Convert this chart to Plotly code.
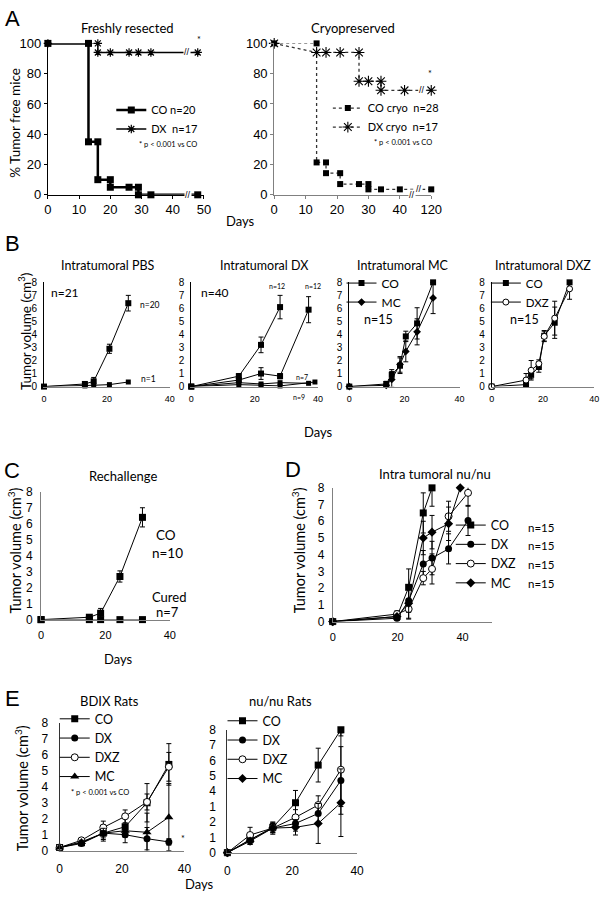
import plotly.graph_objects as go

W, H = 611, 900
TXT = "Lato, 'Open Sans', sans-serif"
NUM = "'Liberation Sans', Arial, sans-serif"
NB = "\u00a0"

# ---------------- DATA ----------------
# A - Freshly resected (% tumor free mice)
a1_co_days = [0, 13, 13, 16, 16, 20, 20, 26, 29, 29, 33, 48]
a1_co_pct = [100, 100, 35, 35, 10, 10, 5, 5, 5, 0, 0, 0]
a1_dx_days = [0, 16, 16, 20, 26, 29, 33, 48]
a1_dx_pct = [100, 100, 94, 94, 94, 94, 94, 94]
a1_xticks = [0, 10, 20, 30, 40, 50]
a_yticks = [0, 20, 40, 60, 80, 100]

# A - Cryopreserved (axis broken between 40 and 120 days)
a2_co_days = [0, 13.5, 13.5, 16.5, 16.5, 21, 21, 27, 30, 30, 34, 40, 120]
a2_co_pct = [100, 100, 21.4, 21.4, 14.3, 14.3, 7.1, 7.1, 7.1, 3.6, 3.6, 3.6, 3.6]
a2_dx_days = [0, 13.5, 16.5, 21, 27, 27, 30, 34, 34, 41.5, 120]
a2_dx_pct = [100, 94, 94, 94, 94, 75, 75, 75, 69, 69, 69]
a2_tick_days = [0, 10, 20, 30, 40, 120]

# B - Intratumoral PBS
b1_days = [0, 13, 15.8, 20.8, 26.8]
b1_pbs = [0, 0.2, 0.4, 2.9, 6.4]
b1_pbs_err = [0, 0.1, 0.3, 0.35, 0.6]
b1_n1 = [0, 0.05, 0.1, 0.15, 0.35]

# B - Intratumoral DX
b2_days_a = [0, 15, 22, 28]
b2_early = [0, 0.8, 3.2, 6.1]
b2_early_err = [0, 0.2, 0.6, 0.9]
b2_days_b = [0, 15, 22, 28, 37]
b2_late = [0, 0.5, 1.0, 0.8, 5.9]
b2_late_err = [0, 0.15, 0.45, 0.2, 1.0]
b2_days_c = [0, 15, 22, 28, 37]
b2_n7 = [0, 0.3, 0.2, 0.3, 0.25]
b2_days_d = [0, 15, 22, 28, 39]
b2_n9 = [0, 0.15, 0.1, 0.05, 0.35]

# B - Intratumoral MC / DXZ
b34_days = [0, 13.4, 15.4, 18.4, 20.5, 24.6, 30.4]
b3_co = [0, 0.2, 0.9, 1.6, 3.85, 4.85, 8.0]
b3_co_err = [0, 0.2, 0.4, 0.6, 0.4, 1.2, 0]
b3_mc = [0, 0.1, 0.55, 1.7, 2.7, 4.2, 6.8]
b3_mc_err = [0, 0.1, 0.6, 0.6, 0.8, 1.0, 1.2]
b4_co = [0, 0.15, 0.9, 1.5, 3.9, 4.9, 8.0]
b4_co_err = [0, 0.1, 0.3, 0.4, 0.4, 1.2, 0]
b4_dxz = [0, 0.5, 1.25, 1.75, 3.85, 5.25, 7.5]
b4_dxz_err = [0, 0.5, 0.75, 0.3, 0.4, 1.3, 0.8]

# C - Rechallenge
c_days = [0, 15, 18.5, 24.5, 31.5]
c_co = [0, 0.15, 0.4, 2.7, 6.4]
c_co_err = [0, 0.1, 0.3, 0.35, 0.6]
c_cured = [0, 0, 0, 0, 0]

# D - Intra tumoral nu/nu
d_days_co = [0, 19.8, 23.4, 27.9, 30.6]
d_co = [0, 0.3, 2.05, 6.5, 8.0]
d_co_err = [0, 0.2, 1.1, 1.2, 1.1]
d_days = [0, 19.8, 23.4, 27.9, 30.6, 35.7, 41.7]
d_dx = [0, 0.2, 1.25, 3.45, 3.8, 4.35, 6.05]
d_dx_err = [0, 0.1, 0.7, 0.8, 1.0, 0.9, 0.9]
d_dxz = [0, 0.45, 0.75, 2.6, 3.15, 6.3, 7.7]
d_dxz_err = [0, 0.2, 0.6, 0.4, 0.9, 0.9, 0.8]
d_days_mc = [0, 19.8, 23.4, 27.9, 30.6, 35.7, 39.3]
d_mc = [0, 0.3, 1.1, 5.0, 5.35, 5.85, 8.0]
d_mc_err = [0, 0.1, 0.9, 1.0, 1.0, 1.0, 0]

# E - BDIX rats
e_days = [0, 7, 14, 21, 28, 35]
e1_co = [0.2, 0.5, 1.1, 1.5, 3.0, 5.4]
e1_co_err = [0, 0.1, 0.5, 0.6, 1.2, 1.3]
e1_dx = [0.2, 0.45, 1.1, 1.0, 0.75, 0.55]
e1_dx_err = [0, 0.1, 0.4, 0.5, 0.7, 0.2]
e1_dxz = [0.2, 0.65, 1.45, 2.15, 3.05, 5.25]
e1_dxz_err = [0, 0.1, 0.4, 0.4, 0.5, 0.9]
e1_mc = [0.2, 0.55, 1.1, 1.25, 1.15, 2.1]
e1_mc_err = [0, 0.1, 0.3, 0.4, 1.2, 2.1]

# E - nu/nu rats
e2_co = [0, 0.85, 1.65, 3.25, 5.7, 8.0]
e2_co_err = [0, 0.3, 0.3, 0.8, 1.1, 0.4]
e2_dx = [0, 0.85, 1.6, 1.9, 2.55, 4.7]
e2_dx_err = [0, 0.3, 0.4, 0.5, 0.6, 2.2]
e2_dxz = [0, 1.15, 1.6, 2.3, 3.1, 5.4]
e2_dxz_err = [0, 0.5, 0.3, 0.5, 0.6, 2.4]
e2_mc = [0, 0.75, 1.6, 1.65, 1.9, 3.25]
e2_mc_err = [0, 0.2, 0.3, 0.5, 1.3, 2.2]
e2_ytick_text = ['0', '1', '2', '1', '4', '5', '6', '7', '8']  # as printed

vol_ticks = list(range(0, 9))
vol_xticks = [0, 20, 40]


def brk(days):
    """broken axis: days beyond the break are drawn at position 50"""
    return [50 if d > 45 else d for d in days]


# ---------------- FIGURE ----------------
fig = go.Figure()


def axname(i, letter):
    return letter + ('' if i == 1 else str(i))


def add(ax, x, y, name, err=None, symbol='square', size=6, lw=1.0,
        dash='solid', shape='linear', legend=None, mcolor='black',
        mline=0.0, lcolor='black'):
    tr = go.Scatter(
        x=x, y=y, mode='lines+markers', name=name,
        xaxis=axname(ax, 'x'), yaxis=axname(ax, 'y'),
        line=dict(color=lcolor, width=lw, dash=dash, shape=shape),
        marker=dict(symbol=symbol, size=size, color=mcolor,
                    line=dict(color='black', width=mline)),
        cliponaxis=False, hoverinfo='skip',
        showlegend=legend is not None, legend=legend or 'legend')
    if err is not None:
        tr.error_y = dict(type='data', array=err, visible=True,
                          thickness=1, width=2.5, color='black')
    fig.add_trace(tr)


# A
add(1, a1_co_days, a1_co_pct, 'CO n=20', symbol='square', size=7, lw=2.5, legend='legend')
add(1, a1_dx_days, a1_dx_pct, 'DX  n=17', symbol='asterisk-open', size=7, lw=1.4,
    mline=1.2, legend='legend')
add(2, brk(a2_co_days), a2_co_pct, 'CO cryo' + NB * 2 + 'n=28', symbol='square', size=6,
    lw=1.3, dash='3px,3px', lcolor='#333', legend='legend2')
add(2, brk(a2_dx_days), a2_dx_pct, 'DX cryo' + NB * 2 + 'n=17', symbol='asterisk-open',
    size=9, lw=1.3, dash='3px,3px', lcolor='#333', mline=1.1, legend='legend2')

# B
add(3, b1_days, b1_pbs, 'PBS n=20', err=b1_pbs_err, size=6)
add(3, b1_days, b1_n1, 'PBS n=1', size=5)
add(4, b2_days_a, b2_early, 'DX n=12 (early)', err=b2_early_err, size=6)
add(4, b2_days_b, b2_late, 'DX n=12 (late)', err=b2_late_err, size=6)
add(4, b2_days_c, b2_n7, 'DX n=7', size=5)
add(4, b2_days_d, b2_n9, 'DX n=9', size=5)
add(5, b34_days, b3_co, 'CO', err=b3_co_err, size=6, legend='legend3')
add(5, b34_days, b3_mc, 'MC', err=b3_mc_err, symbol='diamond', size=6, legend='legend3')
add(6, b34_days, b4_co, 'CO', err=b4_co_err, size=6, legend='legend4')
add(6, b34_days, b4_dxz, 'DXZ', err=b4_dxz_err, symbol='circle', mcolor='white',
    mline=1, size=6, legend='legend4')

# C
add(7, c_days, c_co, 'CO n=10', err=c_co_err, size=7)
add(7, c_days, c_cured, 'Cured n=7', size=7)

# D
add(8, d_days_co, d_co, 'CO', err=d_co_err, size=7, legend='legend5')
add(8, d_days, d_dx, 'DX', err=d_dx_err, symbol='circle', size=7, legend='legend5')
add(8, d_days, d_dxz, 'DXZ', err=d_dxz_err, symbol='circle', mcolor='white', mline=1,
    size=7, legend='legend5')
add(8, d_days_mc, d_mc, 'MC', err=d_mc_err, symbol='diamond', size=7, legend='legend5')

# E
add(9, e_days, e1_co, 'CO', err=e1_co_err, size=7, legend='legend6')
add(9, e_days, e1_dx, 'DX', err=e1_dx_err, symbol='circle', size=7, legend='legend6')
add(9, e_days, e1_dxz, 'DXZ', err=e1_dxz_err, symbol='circle', mcolor='white', mline=1,
    size=7, legend='legend6')
add(9, e_days, e1_mc, 'MC', err=e1_mc_err, symbol='triangle-up', size=8, legend='legend6')
add(10, e_days, e2_co, 'CO', err=e2_co_err, size=7, legend='legend7')
add(10, e_days, e2_dx, 'DX', err=e2_dx_err, symbol='circle', size=7, legend='legend7')
add(10, e_days, e2_dxz, 'DXZ', err=e2_dxz_err, symbol='circle', mcolor='white', mline=1,
    size=7, legend='legend7')
add(10, e_days, e2_mc, 'MC', err=e2_mc_err, symbol='diamond', size=7, legend='legend7')


# ---------------- AXES ----------------
def xdom(a, b):
    return [a / W, b / W]


def ydom(top, bot):
    return [1 - bot / H, 1 - top / H]


layout = {}
GR = '#808080'


def set_axes(i, xpx, xr, ypx, yr, xtv, xtt, ytv, ytt, xcol, ycol, xfs, yfs,
             ticks='', xstand=0, ystand=0):
    layout[('xaxis' if i == 1 else 'xaxis%d' % i)] = dict(
        domain=xdom(*xpx), range=xr, anchor=axname(i, 'y'),
        showgrid=False, zeroline=False, showline=True, linecolor=xcol, linewidth=1,
        ticks=ticks, ticklen=3, tickcolor=xcol, tickvals=xtv, ticktext=xtt,
        tickfont=dict(family=NUM, size=xfs, color='black'), ticklabelstandoff=xstand,
        fixedrange=True)
    layout[('yaxis' if i == 1 else 'yaxis%d' % i)] = dict(
        domain=ydom(*ypx), range=yr, anchor=axname(i, 'x'),
        showgrid=False, zeroline=False, showline=True, linecolor=ycol, linewidth=1,
        ticks=ticks, ticklen=3, tickcolor=ycol, tickvals=ytv, ticktext=ytt,
        tickfont=dict(family=NUM, size=yfs, color='black'), ticklabelstandoff=ystand,
        fixedrange=True)


a_ytt = [str(v) for v in a_yticks]
set_axes(1, (45, 205), [0, 50], (37, 191), [0, 100], a1_xticks, [str(v) for v in a1_xticks],
         a_yticks, a_ytt, 'black', 'black', 13, 13, ticks='outside')
set_axes(2, (277, 438), [0, 50], (37, 191), [0, 100], brk(a2_tick_days),
         [str(v) for v in a2_tick_days], a_yticks, a_ytt, GR, GR, 13, 13, ticks='outside')
vt = [str(v) for v in vol_ticks]
xt = [str(v) for v in vol_xticks]
for i, xpx in zip([3, 4, 5, 6], [(41, 170), (192, 322), (354, 467), (500, 605)]):
    set_axes(i, xpx, [0, 40], (280, 386), [0, 8], vol_xticks, xt, vol_ticks, vt,
             GR, 'black', 9, 10, xstand=4, ystand=4)
set_axes(7, (38, 170), [0, 40], (493, 623), [0, 8], vol_xticks, xt, vol_ticks, vt,
         GR, GR, 11, 12, xstand=5, ystand=5)
set_axes(8, (337, 500), [0, 49], (489, 625), [0, 8], vol_xticks, xt, vol_ticks, vt,
         GR, GR, 11, 12, xstand=5, ystand=5)
set_axes(9, (57, 185), [0, 40], (728, 858), [0, 8], vol_xticks, xt, vol_ticks, vt,
         GR, '#333', 12, 12, xstand=7, ystand=8)
set_axes(10, (229, 362), [0, 40], (735, 860), [0, 8], vol_xticks, xt, vol_ticks,
         e2_ytick_text, GR, '#333', 12, 12, xstand=7, ystand=8)


# ---------------- LEGENDS ----------------
def leg(xpx, ypx, fs):
    return dict(x=xpx / W, y=1 - ypx / H, xanchor='left', yanchor='top',
                bgcolor='rgba(0,0,0,0)', borderwidth=0, tracegroupgap=0,
                font=dict(family=TXT, size=fs, color='black'), itemclick=False,
                itemdoubleclick=False)


layout['legend'] = leg(110, 90, 11)
layout['legend2'] = leg(332, 88, 11)
layout['legend3'] = leg(346, 266, 12)
layout['legend4'] = leg(494, 266, 11.5)
layout['legend5'] = leg(458, 512, 12.5)
layout['legend6'] = leg(52, 709, 12.5)
layout['legend7'] = leg(224, 711, 12.5)

# ---------------- TEXT ----------------
ann = []


def txt(s, x, y, size, fam=TXT, angle=0, xa='center', ya='middle', **kw):
    d = dict(text=s, x=x / W, y=1 - y / H, xref='paper', yref='paper', showarrow=False,
             font=dict(family=fam, size=size, color='black'), textangle=angle,
             xanchor=xa, yanchor=ya)
    d.update(kw)
    ann.append(d)


def brkmark(ax, x, y):
    ann.append(dict(text='//', x=x, y=y, xref=axname(ax, 'x'), yref=axname(ax, 'y'),
                    showarrow=False, font=dict(family=NUM, size=9, color='black'),
                    bgcolor='white', borderpad=0))


for s, x, y in [('A', 9, 12), ('B', 9, 241), ('C', 8, 471), ('D', 296, 470), ('E', 9, 703)]:
    txt(s, x, y, 22, fam=NUM)

txt('Freshly resected', 127, 21, 13)
txt('Cryopreserved', 358, 21, 13)
txt('% Tumor free mice', 11, 118, 13.5, angle=-90)
txt('Days', 242, 218, 13)
txt('*', 200, 33, 9)
txt('* p &lt; 0.001 vs CO', 168, 140, 7.5)
txt('*', 437, 68, 9)
txt('* p &lt; 0.001 vs CO', 409, 138, 7.5)

txt('Intratumoral PBS', 107, 263, 12.5)
txt('Intratumoral DX', 267, 263, 12.5)
txt('Intratumoral MC', 409, 263, 12.5)
txt('Intratumoral DXZ', 553, 263, 12.5)
txt('Tumor volume (cm<sup>3</sup>)', 21, 330, 13.5, angle=-90)
txt('Days', 322, 432, 13)
txt('n=21', 63, 290, 12)
txt('n=20', 150, 303, 8.5)
txt('n=1', 148, 378, 8.5)
txt('n=40', 216, 290, 12)
txt('n=12', 280, 284, 7)
txt('n=12', 317, 284, 7)
txt('n=7', 305, 376, 7)
txt('n=9', 302, 397, 7)
txt('n=15', 384, 318, 12.5)
txt('n=15', 534, 318, 12.5)

txt('Rechallenge', 122, 477, 13)
txt('Tumor volume (cm<sup>3</sup>)', 11, 553, 14.5, angle=-90)
txt('CO', 166, 537, 13.5)
txt('n=10', 168, 555, 13.5)
txt('Cured', 169, 600, 13)
txt('n=7', 168, 615, 13)
txt('Days', 117, 663, 13)

txt('Intra tumoral nu/nu', 442, 475, 13)
txt('Tumor volume (cm<sup>3</sup>)', 302, 553, 14.5, angle=-90)
for k in range(4):
    txt('n=15', 535, 529 + 19 * k, 11.5, xa='left')

txt('BDIX Rats', 108, 706, 13)
txt('nu/nu Rats', 283, 706, 13)
txt('Tumor volume (cm<sup>3</sup>)', 18, 795, 14.5, angle=-90)
txt('* p &lt; 0.001 vs CO', 98, 799, 7.5)
txt('*', 183, 846, 9)
txt('Days', 200, 892, 13)

brkmark(1, 45, 0)
brkmark(1, 44.7, 94)
brkmark(2, 44, 0)
brkmark(2, 46.2, 3.6)
brkmark(2, 47, 69)

layout['annotations'] = ann
fig.update_layout(width=W, height=H, margin=dict(l=0, r=0, t=0, b=0),
                  paper_bgcolor='white', plot_bgcolor='white', **layout)
# the page's default 8px body margin would push the 611x900 figure off the window
fig.write_html('out.html', config={'displayModeBar': False},
               post_script="document.body.style.margin='0px';")
